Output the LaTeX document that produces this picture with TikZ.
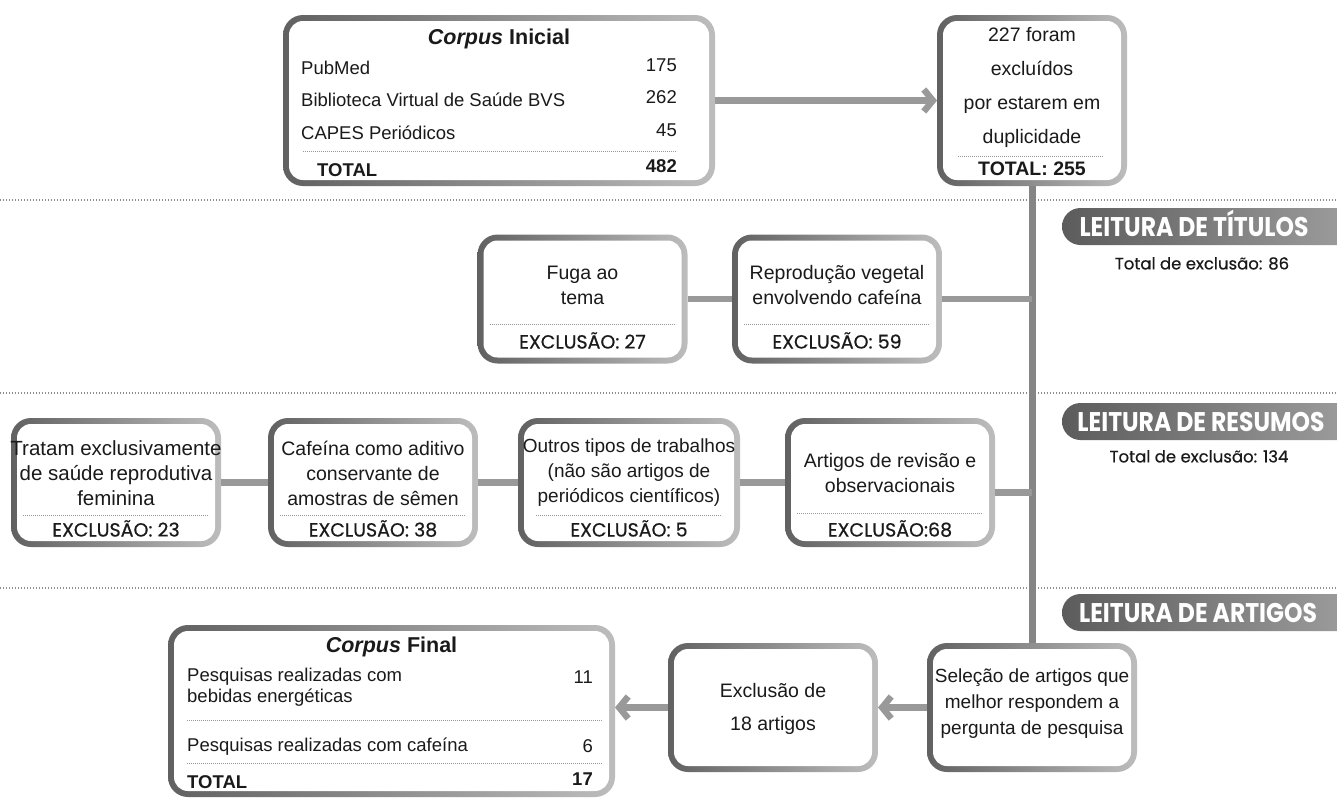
\documentclass[tikz,border=0pt]{standalone}
\usepackage{fontspec}
\setmainfont{Liberation Sans}
\newfontfamily\popfont[FakeBold=0.5]{Poppins}
\newfontfamily\bannerfont[FakeStretch=0.87]{Poppins}
\usetikzlibrary{arrows.meta,positioning,calc}

\definecolor{inkgray}{HTML}{1A1A1A}

\begin{document}
\begin{tikzpicture}[x=1pt,y=-1pt]

	\tikzstyle{stage}=[rectangle,rounded corners=20pt,inner sep=0pt,outer sep=0pt,
		left color=black!62,right color=black!26,
		path picture={\fill[white,rounded corners=14pt]
			([shift={(6pt,-6pt)}]path picture bounding box.north west) rectangle
			([shift={(-6pt,6pt)}]path picture bounding box.south east);},
		minimum width=210pt,minimum height=129pt]
	\tikzstyle{txt}=[inner sep=0pt,align=center,text=inkgray,
		font=\fontsize{19.5}{25}\selectfont]
	\tikzstyle{item}=[inner sep=0pt,text=inkgray,text height=13pt,text depth=0pt,
		font=\fontsize{18.5}{21}\selectfont]
	\tikzstyle{itembold}=[item,font=\bfseries\fontsize{18.5}{21}\selectfont]
	\tikzstyle{excl}=[inner sep=0pt,text=inkgray,text height=13pt,text depth=0pt,
		font=\popfont\fontsize{19}{22}\selectfont]
	\tikzstyle{sep}=[black!40,line width=0.8pt,dash pattern=on 0.8pt off 1.2pt]
	\tikzstyle{rule}=[black!45,line width=1.2pt,dash pattern=on 1.2pt off 1.8pt]
	\tikzstyle{link}=[draw=black!40,line width=6.5pt]
	\tikzstyle{arrow}=[link,-{Straight Barb[length=9pt,width=22pt]}]
	\tikzstyle{bannerbg}=[left color=black!64,right color=black!36,rounded corners=18.5pt]
	\tikzstyle{bannertxt}=[inner sep=0pt,text=white,text height=19pt,text depth=0pt,
		font=\bannerfont\bfseries\fontsize{27}{30}\selectfont]
	\tikzstyle{total}=[inner sep=0pt,text=inkgray,text height=12pt,text depth=0pt,
		font=\popfont\fontsize{16.5}{20}\selectfont]

	\fill[white] (0,0) rectangle (1337,798);
	\useasboundingbox (0,0) rectangle (1337,798);

	% phase rules
	\draw[rule] (0,200) -- (1337,200);
	\draw[rule] (0,393) -- (1337,393);
	\draw[rule] (0,588) -- (1337,588);

	% phase banners
	\begin{scope}
		\clip (0,0) rectangle (1337,798);
		\shade[bannerbg] (1062,208) rectangle (1380,245);
		\shade[bannerbg] (1062,403) rectangle (1380,440);
		\shade[bannerbg] (1062,594) rectangle (1380,631);
	\end{scope}
	\node[bannertxt] (titulos) at (1194,226.5) {LEITURA DE TÍTULOS};
	\node[total,below=21pt of titulos,xshift=8pt] (titulosTot) {Total de exclusão: 86};
	\node[bannertxt] (resumos) at (1201,421.5) {LEITURA DE RESUMOS};
	\node[total,below=19pt of resumos,xshift=-2pt] (resumosTot) {Total de exclusão: 134};
	\node[bannertxt] (artigos) at (1198,612.5) {LEITURA DE ARTIGOS};

	% corpus inicial
	\node[stage,minimum width=432pt,minimum height=171pt] (ini) at (499,100.5) {};
	\node[txt,font=\bfseries\fontsize{21.5}{25}\selectfont] (iniT) at (499,39) {\textit{Corpus} Inicial};
	\node[item,anchor=west] (pub) at (301,68) {PubMed};
	\node[item,anchor=east] (pubN) at (677,65) {175};
	\node[item,anchor=west] (bvs) at (301,100) {Biblioteca Virtual de Saúde BVS};
	\node[item,anchor=east] (bvsN) at (677,97) {262};
	\node[item,anchor=west] (capes) at (301,133) {CAPES Periódicos};
	\node[item,anchor=east] (capesN) at (677,130) {45};
	\draw[sep] (303,151) -- (677,151);
	\node[itembold,anchor=west] (iniTot) at (317,170) {TOTAL};
	\node[itembold,anchor=east] (iniTotN) at (677,166) {482};

	% duplicados
	\node[stage,minimum width=190pt,minimum height=171pt] (dup) at (1032,100.5) {};
	\node[txt,font=\fontsize{19.5}{34}\selectfont] (dupT) at (1032,87) {227 foram\\excluídos\\por estarem em\\duplicidade};
	\draw[sep] (958,156) -- (1103,156);
	\node[itembold,font=\bfseries\fontsize{19.5}{21}\selectfont] (dupTot) at (1032,169) {TOTAL: 255};

	\draw[arrow] (ini.east) -- (dup.west);

	% leitura de titulos
	\node[stage] (fuga) at (582.5,299) {};
	\node[stage] (veg) at (837,299) {};
	\node[txt] (fugaT) at (582.5,285) {Fuga ao\\tema};
	\node[txt] (vegT) at (837,285) {Reprodução vegetal\\envolvendo cafeína};
	\draw[sep] ([xshift=12pt,yshift=-25pt]fuga.west) -- ([xshift=-12pt,yshift=-25pt]fuga.east);
	\draw[sep] ([xshift=12pt,yshift=-25pt]veg.west) -- ([xshift=-12pt,yshift=-25pt]veg.east);
	\node[excl] (fugaX) at (582.5,342) {EXCLUSÃO: 27};
	\node[excl] (vegX) at (837,342) {EXCLUSÃO: 59};

	% leitura de resumos
	\node[stage] (fem) at (116,482.5) {};
	\node[stage] (semen) at (373,482.5) {};
	\node[stage,minimum width=222pt] (outros) at (629,482.5) {};
	\node[stage] (revis) at (890,482.5) {};
	\node[txt,font=\fontsize{20.5}{25}\selectfont] (femT) at (116,473) {Tratam exclusivamente\\de saúde reprodutiva\\feminina};
	\node[txt] (semenT) at (373,473) {Cafeína como aditivo\\conservante de\\amostras de sêmen};
	\node[txt,font=\fontsize{19}{25}\selectfont] (outrosT) at (629,473) {Outros tipos de trabalhos\\(não são artigos de\\periódicos científicos)};
	\node[txt] (revisT) at (890,473.5) {Artigos de revisão e\\observacionais};
	\draw[sep] ([xshift=12pt,yshift=-32.5pt]fem.west) -- ([xshift=-12pt,yshift=-32.5pt]fem.east);
	\draw[sep] ([xshift=12pt,yshift=-32.5pt]semen.west) -- ([xshift=-12pt,yshift=-32.5pt]semen.east);
	\draw[sep] ([xshift=18pt,yshift=-32.5pt]outros.west) -- ([xshift=-18pt,yshift=-32.5pt]outros.east);
	\draw[sep] ([xshift=12pt,yshift=-30.5pt]revis.west) -- ([xshift=-12pt,yshift=-30.5pt]revis.east);
	\node[excl] (femX) at (116,530) {EXCLUSÃO: 23};
	\node[excl] (semenX) at (373,530) {EXCLUSÃO: 38};
	\node[excl] (outrosX) at (629,530) {EXCLUSÃO: 5};
	\node[excl] (revisX) at (890,530) {EXCLUSÃO:68};

	% leitura de artigos
	\node[stage] (sel) at (1032,707.5) {};
	\node[stage] (cut) at (773,707.5) {};
	\node[stage,minimum width=447pt,minimum height=172pt] (fin) at (391.5,711) {};
	\node[txt,font=\fontsize{19}{26}\selectfont] (selT) at (1032,704) {Seleção de artigos que\\melhor respondem a\\pergunta de pesquisa};
	\node[txt,font=\fontsize{19.5}{33}\selectfont] (cutT) at (773,708.5) {Exclusão de\\18 artigos};

	% corpus final
	\node[txt,font=\bfseries\fontsize{21.5}{25}\selectfont] (finT) at (391.5,647) {\textit{Corpus} Final};
	\node[txt,align=left,anchor=west,font=\fontsize{18.5}{21}\selectfont] (energ) at (187,687.5) {Pesquisas realizadas com\\bebidas energéticas};
	\node[item,anchor=east] (energN) at (593,677) {11};
	\draw[sep] (187,720) -- (602,720);
	\node[item,anchor=west] (caf) at (187,745) {Pesquisas realizadas com cafeína};
	\node[item,anchor=east] (cafN) at (593,746) {6};
	\draw[sep] (187,763) -- (602,763);
	\node[itembold,anchor=west] (finTot) at (187,782) {TOTAL};
	\node[itembold,anchor=east] (finTotN) at (593,779) {17};

	% connectors
	\draw[link,draw=black!48,line width=7pt] (dup.south) -- (sel.north);
	\draw[link] (fuga) -- (veg);
	\draw[link] (veg.east) -- (veg.east -| dup.south);
	\draw[link] (fem) -- (semen);
	\draw[link] (semen) -- (outros);
	\draw[link] (outros) -- (revis);
	\draw[link] ([yshift=-10pt]revis.east) -- ([yshift=-10pt]revis.east -| dup.south);
	\draw[arrow] (sel) -- (cut);
	\draw[arrow] (cut.west) -- (cut.west -| fin.east);

\end{tikzpicture}
\end{document}
